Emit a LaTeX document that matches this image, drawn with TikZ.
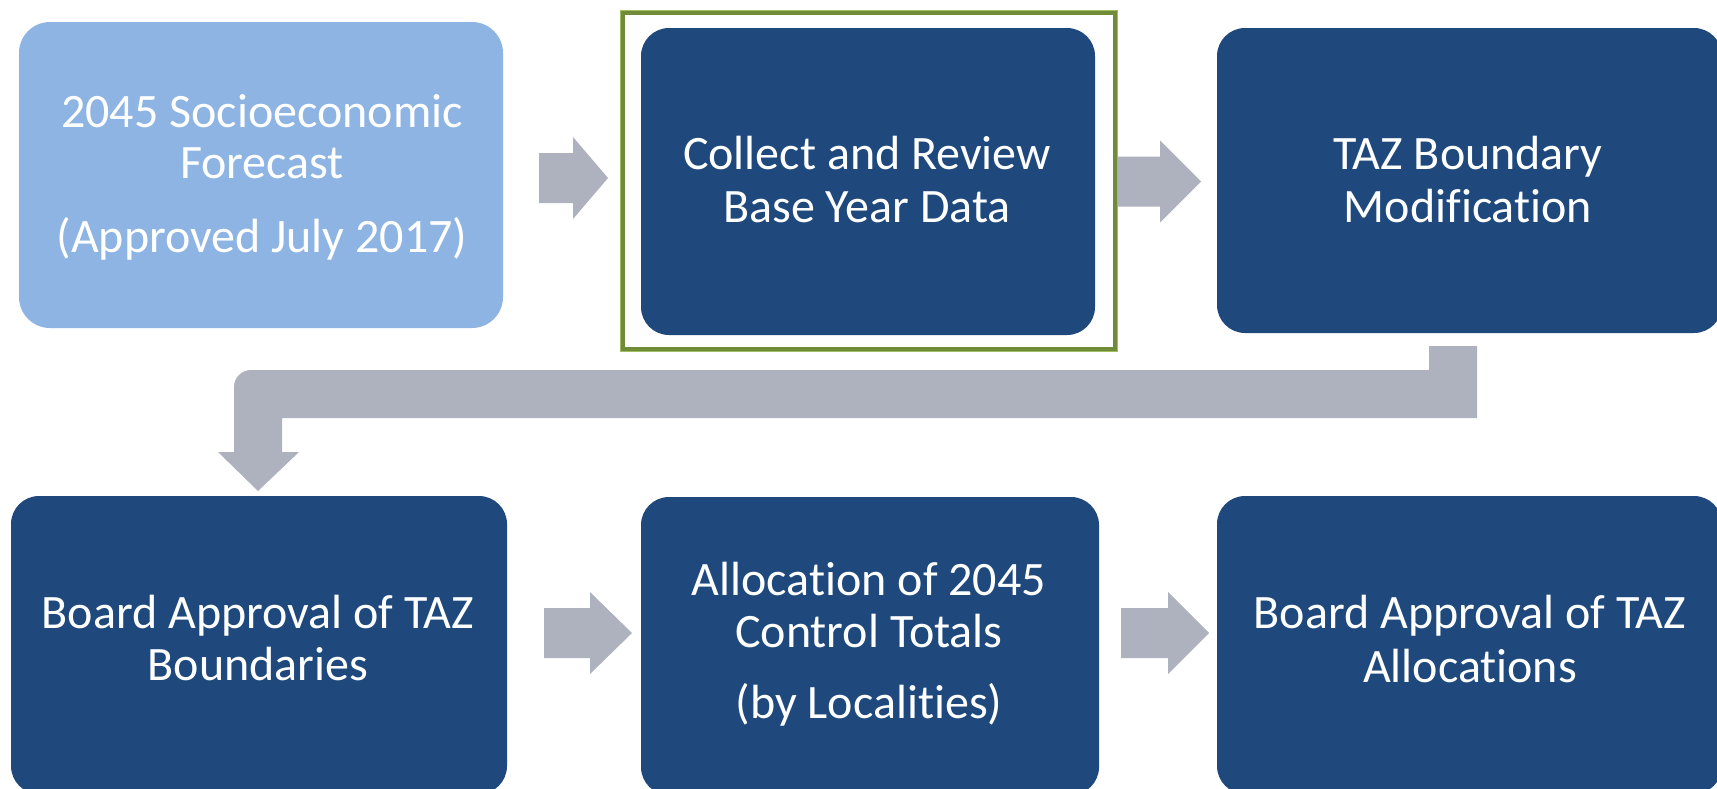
\documentclass[tikz,border=0pt]{standalone}
\usepackage{fontspec}
\setmainfont{Carlito}[Ligatures=NoCommon]
\definecolor{dkblue}{RGB}{31,73,125}
\definecolor{ltblue}{RGB}{142,180,227}
\definecolor{arrowgray}{RGB}{173,178,190}
\definecolor{framedk}{RGB}{112,140,56}
\definecolor{framelt}{RGB}{160,190,95}
\newcommand{\blkarrow}[4]{%
  \fill[arrowgray] (#1,#2-25) -- (#3,#2-25) -- (#3,#2-41) -- (#4,#2) -- (#3,#2+41) -- (#3,#2+25) -- (#1,#2+25) -- cycle;}
\tikzset{
  box/.style={draw=none, rounded corners=28pt, inner sep=0pt},
  txt/.style={text=white, anchor=base, inner sep=0pt, font=\fontsize{48}{52}\selectfont},
}
\begin{document}
\begin{tikzpicture}[x=1pt,y=-1pt]
\clip (0,0) rectangle (1717,788);
\fill[white] (0,0) rectangle (1717,788);
% boxes
\node[box, fill=ltblue, rounded corners=31pt, minimum width=484pt, minimum height=306pt] (b1) at (261,175) {};
\node[box, fill=dkblue, minimum width=454pt, minimum height=307pt] (b2) at (868,181.5) {};
\node[box, fill=dkblue, minimum width=505pt, minimum height=305pt] (b3) at (1469.5,180.5) {};
\node[box, fill=dkblue, minimum width=496pt, minimum height=298pt] (b4) at (259,645) {};
\node[box, fill=dkblue, minimum width=458pt, minimum height=298pt] (b5) at (870,646) {};
\node[box, fill=dkblue, minimum width=505pt, minimum height=298pt] (b6) at (1469.5,645) {};
% arrows
\blkarrow{539}{178}{573}{608}
\blkarrow{1115}{181.5}{1160}{1201}
\blkarrow{544}{633}{590}{632}
\blkarrow{1121}{633}{1168}{1209}
% bent arrow
\fill[arrowgray] (1429,346) -- (1477,346) -- (1477,418) -- (282,418) -- (282,452) -- (299,452)
  -- (258,491) -- (218,452) -- (234,452) -- (234,387) arc[start angle=180, end angle=270, radius=17] -- (1429,370) -- cycle;
% green frame
\draw[framedk, line width=5pt] (622.5,12.5) rectangle (1115,349.5);
\draw[framelt, line width=1pt] (620.5,10.5) rectangle (1117,351.5);
% texts
\node[txt] (t1a) at (262,127) {2045 Socioeconomic};
\node[txt] (t1b) at (262,178) {Forecast};
\node[txt] (t1c) at (262,252) {(Approved July 2017)};
\node[txt] (t2a) at (867,169) {Collect and Review};
\node[txt] (t2b) at (867,222) {Base Year Data};
\node[txt] (t3a) at (1468,169) {TAZ Boundary};
\node[txt] (t3b) at (1468,222) {Modification};
\node[txt] (t4a) at (258,628) {Board Approval of TAZ};
\node[txt] (t4b) at (258,680) {Boundaries};
\node[txt] (t5a) at (869,595) {Allocation of 2045};
\node[txt] (t5b) at (869,647) {Control Totals};
\node[txt] (t5c) at (869,718) {(by Localities)};
\node[txt] (t6a) at (1470,628) {Board Approval of TAZ};
\node[txt] (t6b) at (1470,682) {Allocations};
\end{tikzpicture}
\end{document}
